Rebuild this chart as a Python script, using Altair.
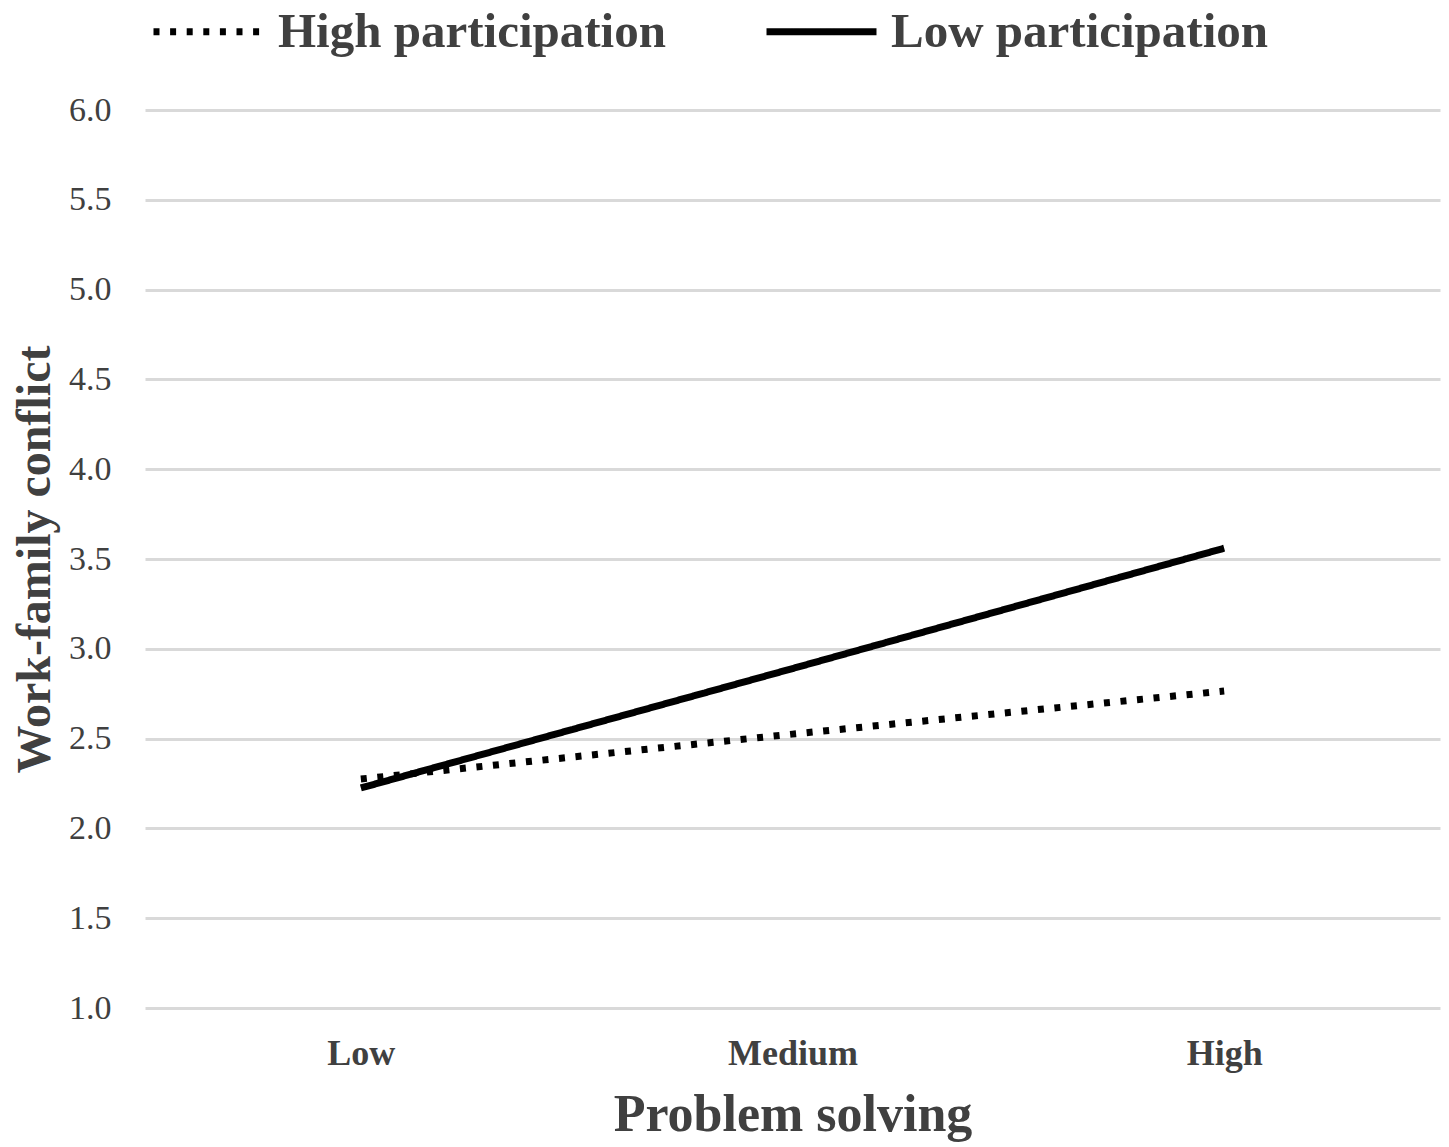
import altair as alt
import pandas as pd

categories = ["Low", "Medium", "High"]
high_participation = [2.275, 2.525, 2.765]
low_participation = [2.225, 2.89, 3.56]
series_names = ["High participation", "Low participation"]
y_ticks = [1.0, 1.5, 2.0, 2.5, 3.0, 3.5, 4.0, 4.5, 5.0, 5.5, 6.0]

rows = []
for name, vals in zip(series_names, [high_participation, low_participation]):
    for c, v in zip(categories, vals):
        rows.append({"Problem solving": c, "value": v, "series": name})
df = pd.DataFrame(rows)

FONT = "Liberation Serif"
TXT = "#404040"

chart = alt.Chart(df).mark_line(strokeCap="butt", color="black", strokeWidth=7).encode(
    x=alt.X("Problem solving:O", sort=categories,
            scale=alt.Scale(padding=0.5),
            axis=alt.Axis(title="Problem solving", labelAngle=0, labelFont=FONT,
                          labelFontSize=36, labelFontWeight="bold", labelColor=TXT,
                          labelPadding=28, titleFont=FONT, titleFontSize=52,
                          titleFontWeight="bold", titleColor=TXT, titlePadding=18,
                          ticks=False, domain=False, grid=False)),
    y=alt.Y("value:Q", scale=alt.Scale(domain=[1, 6], nice=False, zero=False),
            axis=alt.Axis(title="Work-family conflict", values=y_ticks, format=".1f",
                          labelFont=FONT, labelFontSize=34, labelColor=TXT,
                          labelPadding=34, titleFont=FONT, titleFontSize=48,
                          titleFontWeight="bold", titleColor=TXT, titlePadding=9,
                          ticks=False, domain=False, grid=True, gridColor="#d9d9d9",
                          gridWidth=3)),
    strokeDash=alt.StrokeDash("series:N",
        scale=alt.Scale(domain=series_names, range=[[6, 10.6], [1, 0]]),
        legend=alt.Legend(title=None, orient="none", legendX=5, legendY=-137,
                          direction="horizontal", symbolType="stroke",
                          symbolSize=12100, symbolStrokeWidth=7,
                          symbolStrokeColor="black", labelFont=FONT,
                          labelFontSize=49, labelFontWeight="bold", labelLimit=0,
                          labelColor=TXT, labelOffset=11, columnPadding=86)),
).properties(
    width=1295, height=898,
    autosize=alt.AutoSizeParams(type="none"),
    padding={"left": 137, "top": 102, "right": 1, "bottom": 139},
).configure_view(stroke=None)

chart.save("out.html", embed_options={"renderer": "svg", "actions": False})
